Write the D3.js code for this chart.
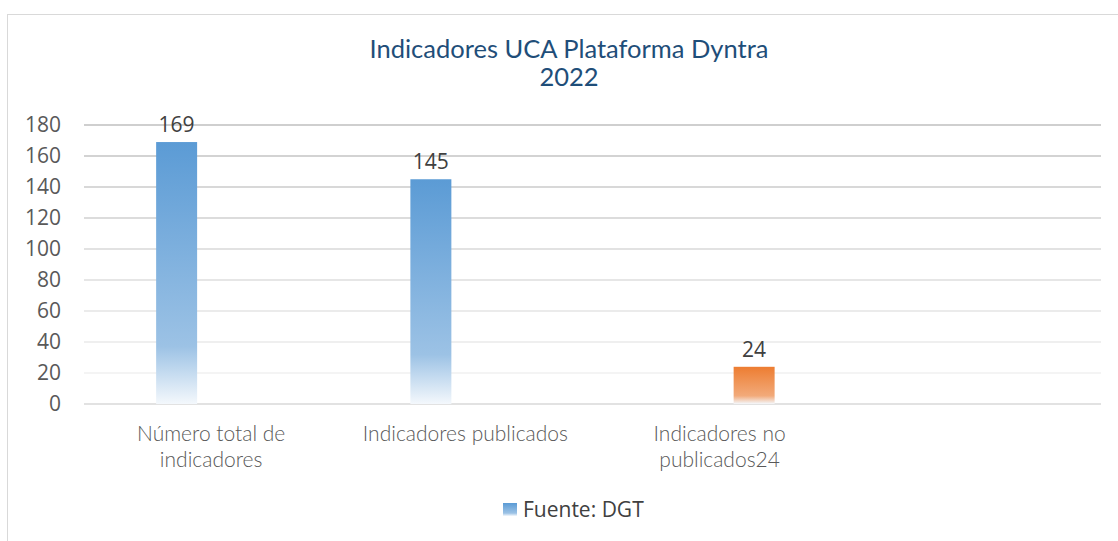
<!DOCTYPE html>
<html>
<head>
<meta charset="utf-8">
<script src="https://cdn.jsdelivr.net/npm/d3@7"></script>
<style>
  body { margin: 0; background: #fff; }
  #chart svg { display: block; }
</style>
</head>
<body>
<div id="chart"></div>
<script>
// Data
var categories = ["Número total de\nindicadores", "Indicadores publicados", "Indicadores no\npublicados24", ""];
var seriesNames = ["Fuente: DGT", ""];
var dgtValues = [169, 145, null, null];
var otherValues = [null, null, 24, null];
var yTicks = [0, 20, 40, 60, 80, 100, 120, 140, 160, 180];
var titleLines = ["Indicadores UCA Plataforma Dyntra", "2022"];

var width = 1118, height = 541;
var margin = { left: 84, right: 17, top: 125, bottom: 137 };

var svg = d3.select("#chart").append("svg")
  .attr("width", width)
  .attr("height", height);

// gradients for the bars
var defs = svg.append("defs");
function addGradient(id, top, mid) {
  var g = defs.append("linearGradient").attr("id", id)
    .attr("x1", 0).attr("y1", 0).attr("x2", 0).attr("y2", 1);
  g.append("stop").attr("offset", "0%").attr("stop-color", top);
  g.append("stop").attr("offset", "78%").attr("stop-color", mid);
  g.append("stop").attr("offset", "100%").attr("stop-color", "#f4f8fc");
}
addGradient("gradBlue", "#5b9bd5", "#9cc2e5");
addGradient("gradOrange", "#ed7d31", "#f2aa7a");

// chart border
svg.append("rect")
  .attr("x", 7.5).attr("y", 14.5)
  .attr("width", width + 10).attr("height", height + 10)
  .attr("fill", "none").attr("stroke", "#d9d9d9");

// title
svg.append("text")
  .attr("x", 569).attr("y", 58)
  .attr("text-anchor", "middle")
  .style("font-family", "Lato, 'Open Sans', sans-serif")
  .style("font-size", "25.5px")
  .style("fill", "#1f4e79")
  .selectAll("tspan")
  .data(titleLines)
  .enter().append("tspan")
  .attr("x", 569)
  .attr("dy", function (d, i) { return i === 0 ? 0 : 28; })
  .text(function (d) { return d; });

// scales
var x0 = d3.scaleBand()
  .domain(d3.range(categories.length))
  .range([margin.left, width - margin.right]);

var bw = x0.bandwidth();
var x1 = d3.scaleBand()
  .domain(seriesNames.map(function (d, i) { return i; }))
  .range([bw / 2 - 69, bw / 2 + 69])
  .paddingInner(0.406)
  .paddingOuter(0.203);

var y = d3.scaleLinear()
  .domain([0, 180])
  .range([height - margin.bottom, margin.top]);

// gridlines, fading from dark at top to light near the bottom
var gridColor = d3.scaleLinear().domain([20, 180]).range(["#f0f0f0", "#bfbfbf"]);
svg.append("g")
  .selectAll("line")
  .data(yTicks)
  .enter().append("line")
  .attr("x1", margin.left).attr("x2", width - margin.right)
  .attr("y1", function (d) { return y(d); })
  .attr("y2", function (d) { return y(d); })
  .attr("stroke", function (d) { return d === 0 ? "#d9d9d9" : gridColor(d); })
  .attr("stroke-width", 1.3);

// y axis labels
var yAxis = d3.axisLeft(y).tickValues(yTicks).tickSize(0).tickPadding(23);
var gy = svg.append("g")
  .attr("transform", "translate(" + margin.left + ",0)")
  .call(yAxis);
gy.select(".domain").remove();
gy.selectAll("text")
  .style("font-family", "'Open Sans', sans-serif")
  .style("font-size", "21px")
  .style("fill", "#595959");

// bars
var series = [
  { name: seriesNames[0], values: dgtValues, fill: "url(#gradBlue)" },
  { name: seriesNames[1], values: otherValues, fill: "url(#gradOrange)" }
];

series.forEach(function (s, si) {
  var pts = s.values.map(function (v, i) { return { i: i, v: v }; })
    .filter(function (d) { return d.v != null; });
  var g = svg.append("g");
  g.selectAll("rect")
    .data(pts)
    .enter().append("rect")
    .attr("x", function (d) { return x0(d.i) + x1(si); })
    .attr("width", x1.bandwidth())
    .attr("y", function (d) { return y(d.v); })
    .attr("height", function (d) { return y(0) - y(d.v); })
    .attr("fill", s.fill);
  g.selectAll("text")
    .data(pts)
    .enter().append("text")
    .attr("x", function (d) { return x0(d.i) + x1(si) + x1.bandwidth() / 2; })
    .attr("y", function (d) { return y(d.v) - 10; })
    .attr("text-anchor", "middle")
    .style("font-family", "'Open Sans', sans-serif")
    .style("font-size", "21px")
    .style("fill", "#404040")
    .text(function (d) { return d.v; });
});

// x axis labels
var xl = svg.append("g")
  .selectAll("text")
  .data(categories)
  .enter().append("text")
  .attr("text-anchor", "middle")
  .attr("y", 441)
  .style("font-family", "Lato, sans-serif")
  .style("font-weight", 300)
  .style("font-size", "21px")
  .style("fill", "#595959");
xl.selectAll("tspan")
  .data(function (d, i) {
    return d.split("\n").map(function (t) { return { t: t, i: i }; });
  })
  .enter().append("tspan")
  .attr("x", function (d) { return x0(d.i) + bw / 2; })
  .attr("dy", function (d, j) { return j === 0 ? 0 : 26; })
  .text(function (d) { return d.t; });

// legend
var legend = svg.append("g").attr("transform", "translate(503,503)");
legend.append("rect")
  .attr("width", 14).attr("height", 13)
  .attr("fill", "url(#gradBlue)");
legend.append("text")
  .attr("x", 20).attr("y", 14)
  .style("font-family", "'Open Sans', sans-serif")
  .style("font-size", "21px")
  .style("fill", "#404040")
  .text(seriesNames[0]);
</script>
</body>
</html>
